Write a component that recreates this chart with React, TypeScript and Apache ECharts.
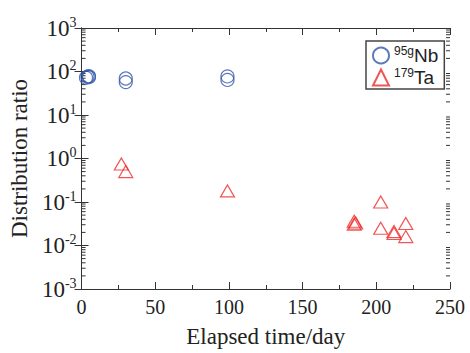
import React, { useEffect, useRef } from "react";
import * as echarts from "echarts";

const nbDays = [3, 4, 5, 5, 30, 30, 99, 99];
const nbRatio = [72, 76, 74, 78, 69, 57, 77, 64];
const taDays = [27, 30, 99, 185, 185, 186, 203, 203, 212, 212, 220, 220];
const taRatio = [0.75, 0.5, 0.18, 0.036, 0.031, 0.033, 0.10, 0.025, 0.021, 0.019, 0.032, 0.016];
const xTicks = [0, 50, 100, 150, 200, 250];
const yDecades = [-3, -2, -1, 0, 1, 2];
const yMinorMult = [2, 3, 4, 5, 6, 7, 8, 9];

const serif = "'Liberation Serif', 'DejaVu Serif', serif";
const sans = "'Liberation Sans', Arial, sans-serif";
const blue = "#3358a8";
const red = "#ee2b2b";
const axisCol = "#333";

export default function App() {
  const ref = useRef<HTMLDivElement>(null);
  useEffect(() => {
    const chart = echarts.init(ref.current!, null, { renderer: "svg" });
    const logFmt = (v: number) => {
      const e = Math.round(Math.log10(v));
      return `{b|10}{s|${e}}`;
    };
    const richY = {
      b: { fontFamily: serif, fontSize: 23, color: "#222" },
      s: { fontFamily: serif, fontSize: 14, color: "#222", padding: [0, 0, 12, 0] },
    };
    const common = {
      axisLine: { show: true, lineStyle: { color: axisCol, width: 1 } },
      splitLine: { show: false },
    };
    const pts = (xs: number[], ys: number[]) => xs.map((x, i) => [x, ys[i]]);
    const minorVals: number[][] = [];
    yDecades.forEach((d) => yMinorMult.forEach((m) => minorVals.push([0, m * Math.pow(10, d)])));
    chart.setOption({
      animation: false,
      backgroundColor: "#fff",
      grid: { left: 77, right: 20, top: 28, bottom: 58 },
      xAxis: [
        {
          type: "value", min: 0, max: 250, interval: 50, position: "bottom",
          ...common,
          axisTick: { inside: true, length: 7, lineStyle: { color: axisCol } },
          minorTick: { show: true, splitNumber: 2, length: 4, lineStyle: { color: axisCol } },
          axisLabel: {
            fontFamily: serif, fontSize: 20, color: "#222", margin: 8,
            formatter: (v: number) => (xTicks.includes(v) ? String(v) : ""),
          },
          name: "Elapsed time/day", nameLocation: "middle", nameGap: 36,
          nameTextStyle: { fontFamily: serif, fontSize: 23, color: "#222" },
        },
        {
          type: "value", min: 0, max: 250, interval: 50, position: "top",
          ...common,
          axisTick: { inside: true, length: 7, lineStyle: { color: axisCol } },
          minorTick: { show: true, splitNumber: 2, length: 4, lineStyle: { color: axisCol } },
          axisLabel: { show: false },
        },
      ],
      yAxis: [
        {
          type: "log", min: 0.001, max: 1000, logBase: 10, position: "left",
          ...common,
          axisTick: { inside: true, length: 7, lineStyle: { color: axisCol } },
          minorTick: { show: false },
          axisLabel: { formatter: logFmt, rich: richY, margin: 5 },
          name: "Distribution ratio", nameLocation: "middle", nameGap: 40, nameRotate: 90,
          nameTextStyle: { fontFamily: serif, fontSize: 23, color: "#222" },
        },
        {
          type: "log", min: 0.001, max: 1000, logBase: 10, position: "right",
          ...common,
          axisTick: { inside: true, length: 7, lineStyle: { color: axisCol } },
          minorTick: { show: false },
          axisLabel: { show: false },
        },
      ],
      legend: {
        left: 366, top: 41, orient: "vertical",
        backgroundColor: "#fff",
        borderColor: "#444", borderWidth: 1.5,
        padding: [4, 6, 2, 6], itemGap: 2,
        itemWidth: 16, itemHeight: 16,
        data: ["95gNb", "179Ta"],
        formatter: (n: string) => (n === "95gNb" ? "{s|95g}{b|Nb}" : "{s|179}{b|Ta}"),
        textStyle: {
          rich: {
            b: { fontFamily: sans, fontSize: 19, color: "#222" },
            s: { fontFamily: sans, fontSize: 12, color: "#222", padding: [0, 0, 9, 0] },
          },
        },
      },
      series: [
        {
          name: "yMinor", type: "custom", coordinateSystem: "cartesian2d",
          silent: true, clip: false, z: 1,
          data: minorVals,
          renderItem: (params: any, api: any) => {
            const v = api.value(1);
            const l = api.coord([0, v]);
            const r = api.coord([250, v]);
            const st = { stroke: axisCol, lineWidth: 1 };
            return {
              type: "group",
              children: [
                { type: "line", shape: { x1: l[0], y1: l[1], x2: l[0] + 4, y2: l[1] }, style: st },
                { type: "line", shape: { x1: r[0], y1: r[1], x2: r[0] - 4, y2: r[1] }, style: st },
              ],
            };
          },
        },
        {
          name: "95gNb", type: "scatter", data: pts(nbDays, nbRatio),
          symbol: "circle", symbolSize: 13, z: 3,
          itemStyle: { color: "rgba(255,255,255,0)", borderColor: blue, borderWidth: 1.2 },
        },
        {
          name: "179Ta", type: "scatter", data: pts(taDays, taRatio),
          symbol: "triangle", symbolSize: [14, 12], z: 3,
          itemStyle: { color: "rgba(255,255,255,0)", borderColor: red, borderWidth: 1.2 },
        },
      ],
    });
    return () => chart.dispose();
  }, []);
  return (
    <div
      ref={ref}
      style={{ position: "fixed", left: 0, top: 0, width: 470, height: 353, background: "#fff" }}
    />
  );
}
